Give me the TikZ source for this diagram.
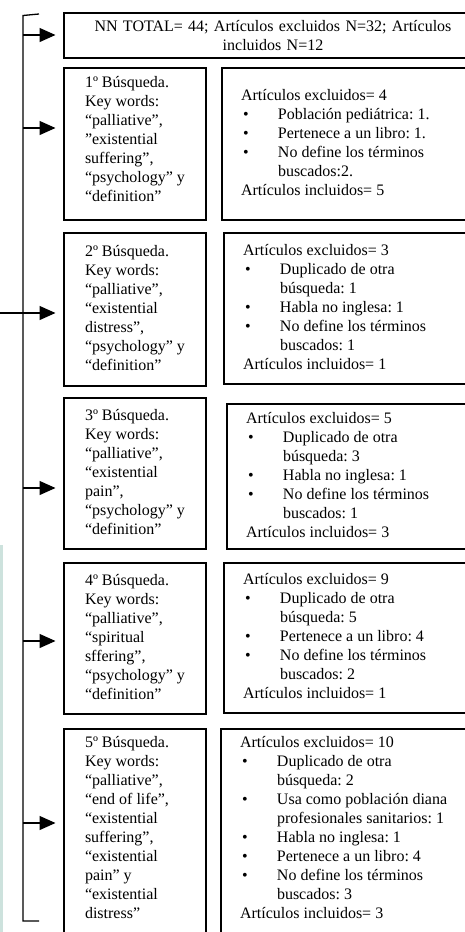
\documentclass[tikz,border=0pt]{standalone}
\usepackage{fontspec}
\setmainfont{Liberation Serif}
\usetikzlibrary{arrows.meta}
\definecolor{stripcol}{RGB}{205,226,221}
\newcommand{\bul}{\makebox[37bp][l]{\hspace{2bp}\textbullet}}
\newcommand{\ind}{\hspace*{37bp}}
\newcommand{\cellbox}[3]{\makebox[#2][l]{\hspace*{#1}\begin{tabular}[c]{@{}l@{}}#3\end{tabular}}}
\begin{document}
\begin{tikzpicture}[x=1bp,y=-1bp,
  box/.style={draw, line width=2.7bp, inner xsep=0pt, inner ysep=0pt, outer sep=0pt,
    anchor=north west, font=\fontsize{16bp}{19bp}\selectfont\frenchspacing},
  conn/.style={line width=1.3bp},
  arr/.style={conn, -{Triangle[length=16bp,width=14bp]}, shorten >=8.5bp}]
\useasboundingbox (0,0) rectangle (465,932);
\fill[stripcol] (0,545) rectangle (2.5,932);

% top box
\node[box, text width=418bp, minimum height=45bp, align=center] (T) at (64,13)
  {NN TOTAL= 44; Artículos excluidos N=32; Artículos\\incluidos N=12};

% row 1
\node[box, minimum height=152bp] (L1) at (64,68) {\cellbox{21bp}{142bp}{%
1º Búsqueda.\\Key words:\\“palliative”,\\”existential\\suffering”,\\“psychology” y\\“definition”\\[6bp]}};
\node[box, minimum height=152bp] (R1) at (222,68) {\cellbox{19bp}{260bp}{%
Artículos excluidos= 4\\
\bul Población pediátrica: 1.\\
\bul Pertenece a un libro: 1.\\
\bul No define los términos\\
\ind buscados:2.\\
Artículos incluidos= 5}};

% row 2
\node[box, minimum height=153bp] (L2) at (64,233) {\cellbox{21bp}{142bp}{%
2º Búsqueda.\\Key words:\\“palliative”,\\“existential\\distress”,\\“psychology” y\\“definition”}};
\node[box, minimum height=151bp] (R2) at (224,233) {\cellbox{19bp}{258bp}{%
Artículos excluidos= 3\\
\bul Duplicado de otra\\
\ind búsqueda: 1\\
\bul Habla no inglesa: 1\\
\bul No define los términos\\
\ind buscados: 1\\
Artículos incluidos= 1}};

% row 3
\node[box, minimum height=151bp] (L3) at (64,398) {\cellbox{21bp}{142bp}{%
3º Búsqueda.\\Key words:\\“palliative”,\\“existential\\pain”,\\“psychology” y\\“definition”}};
\node[box, minimum height=145bp] (R3) at (227,404) {\cellbox{19bp}{255bp}{%
Artículos excluidos= 5\\
\bul Duplicado de otra\\
\ind búsqueda: 3\\
\bul Habla no inglesa: 1\\
\bul No define los términos\\
\ind buscados: 1\\
Artículos incluidos= 3}};

% row 4
\node[box, minimum height=151bp] (L4) at (64,563) {\cellbox{21bp}{142bp}{%
4º Búsqueda.\\Key words:\\“palliative”,\\“spiritual\\sffering”,\\“psychology” y\\“definition”}};
\node[box, minimum height=150bp] (R4) at (224,563) {\cellbox{19bp}{258bp}{%
Artículos excluidos= 9\\
\bul Duplicado de otra\\
\ind búsqueda: 5\\
\bul Pertenece a un libro: 4\\
\bul No define los términos\\
\ind buscados: 2\\
Artículos incluidos= 1}};

% row 5
\node[box, minimum height=240bp] (L5) at (64,729) {\cellbox{21bp}{142bp}{%
5º Búsqueda.\\Key words:\\“palliative”,\\“end of life”,\\“existential\\suffering”,\\“existential\\pain” y\\“existential\\distress”\\[40bp]}};
\node[box, minimum height=240bp] (R5) at (221,729) {\cellbox{19bp}{261bp}{%
Artículos excluidos= 10\\
\bul Duplicado de otra\\
\ind búsqueda: 2\\
\bul Usa como población diana\\
\ind profesionales sanitarios: 1\\
\bul Habla no inglesa: 1\\
\bul Pertenece a un libro: 4\\
\bul No define los términos\\
\ind buscados: 3\\
Artículos incluidos= 3\\[40bp]}};

% spine
\coordinate (sT) at (39,14);
\coordinate (s0) at (23,15.5);
\coordinate (sB) at (23,921);
\coordinate (sE) at (39,921);
\draw[conn] (sT) -- (s0) -- (sB) -- (sE);

\coordinate (a0) at (23,35);
\coordinate (a1) at (23,128);
\coordinate (a2) at (23,313);
\coordinate (a3) at (23,488);
\coordinate (a4) at (23,641);
\coordinate (a5) at (23,823);
\coordinate (lin) at (0,313);
\draw[conn] (lin) -- (a2);
\draw[arr] (a0) -- (a0 -| T.west);
\draw[arr] (a1) -- (a1 -| L1.west);
\draw[arr] (a2) -- (a2 -| L2.west);
\draw[arr] (a3) -- (a3 -| L3.west);
\draw[arr] (a4) -- (a4 -| L4.west);
\draw[arr] (a5) -- (a5 -| L5.west);
\end{tikzpicture}
\end{document}
